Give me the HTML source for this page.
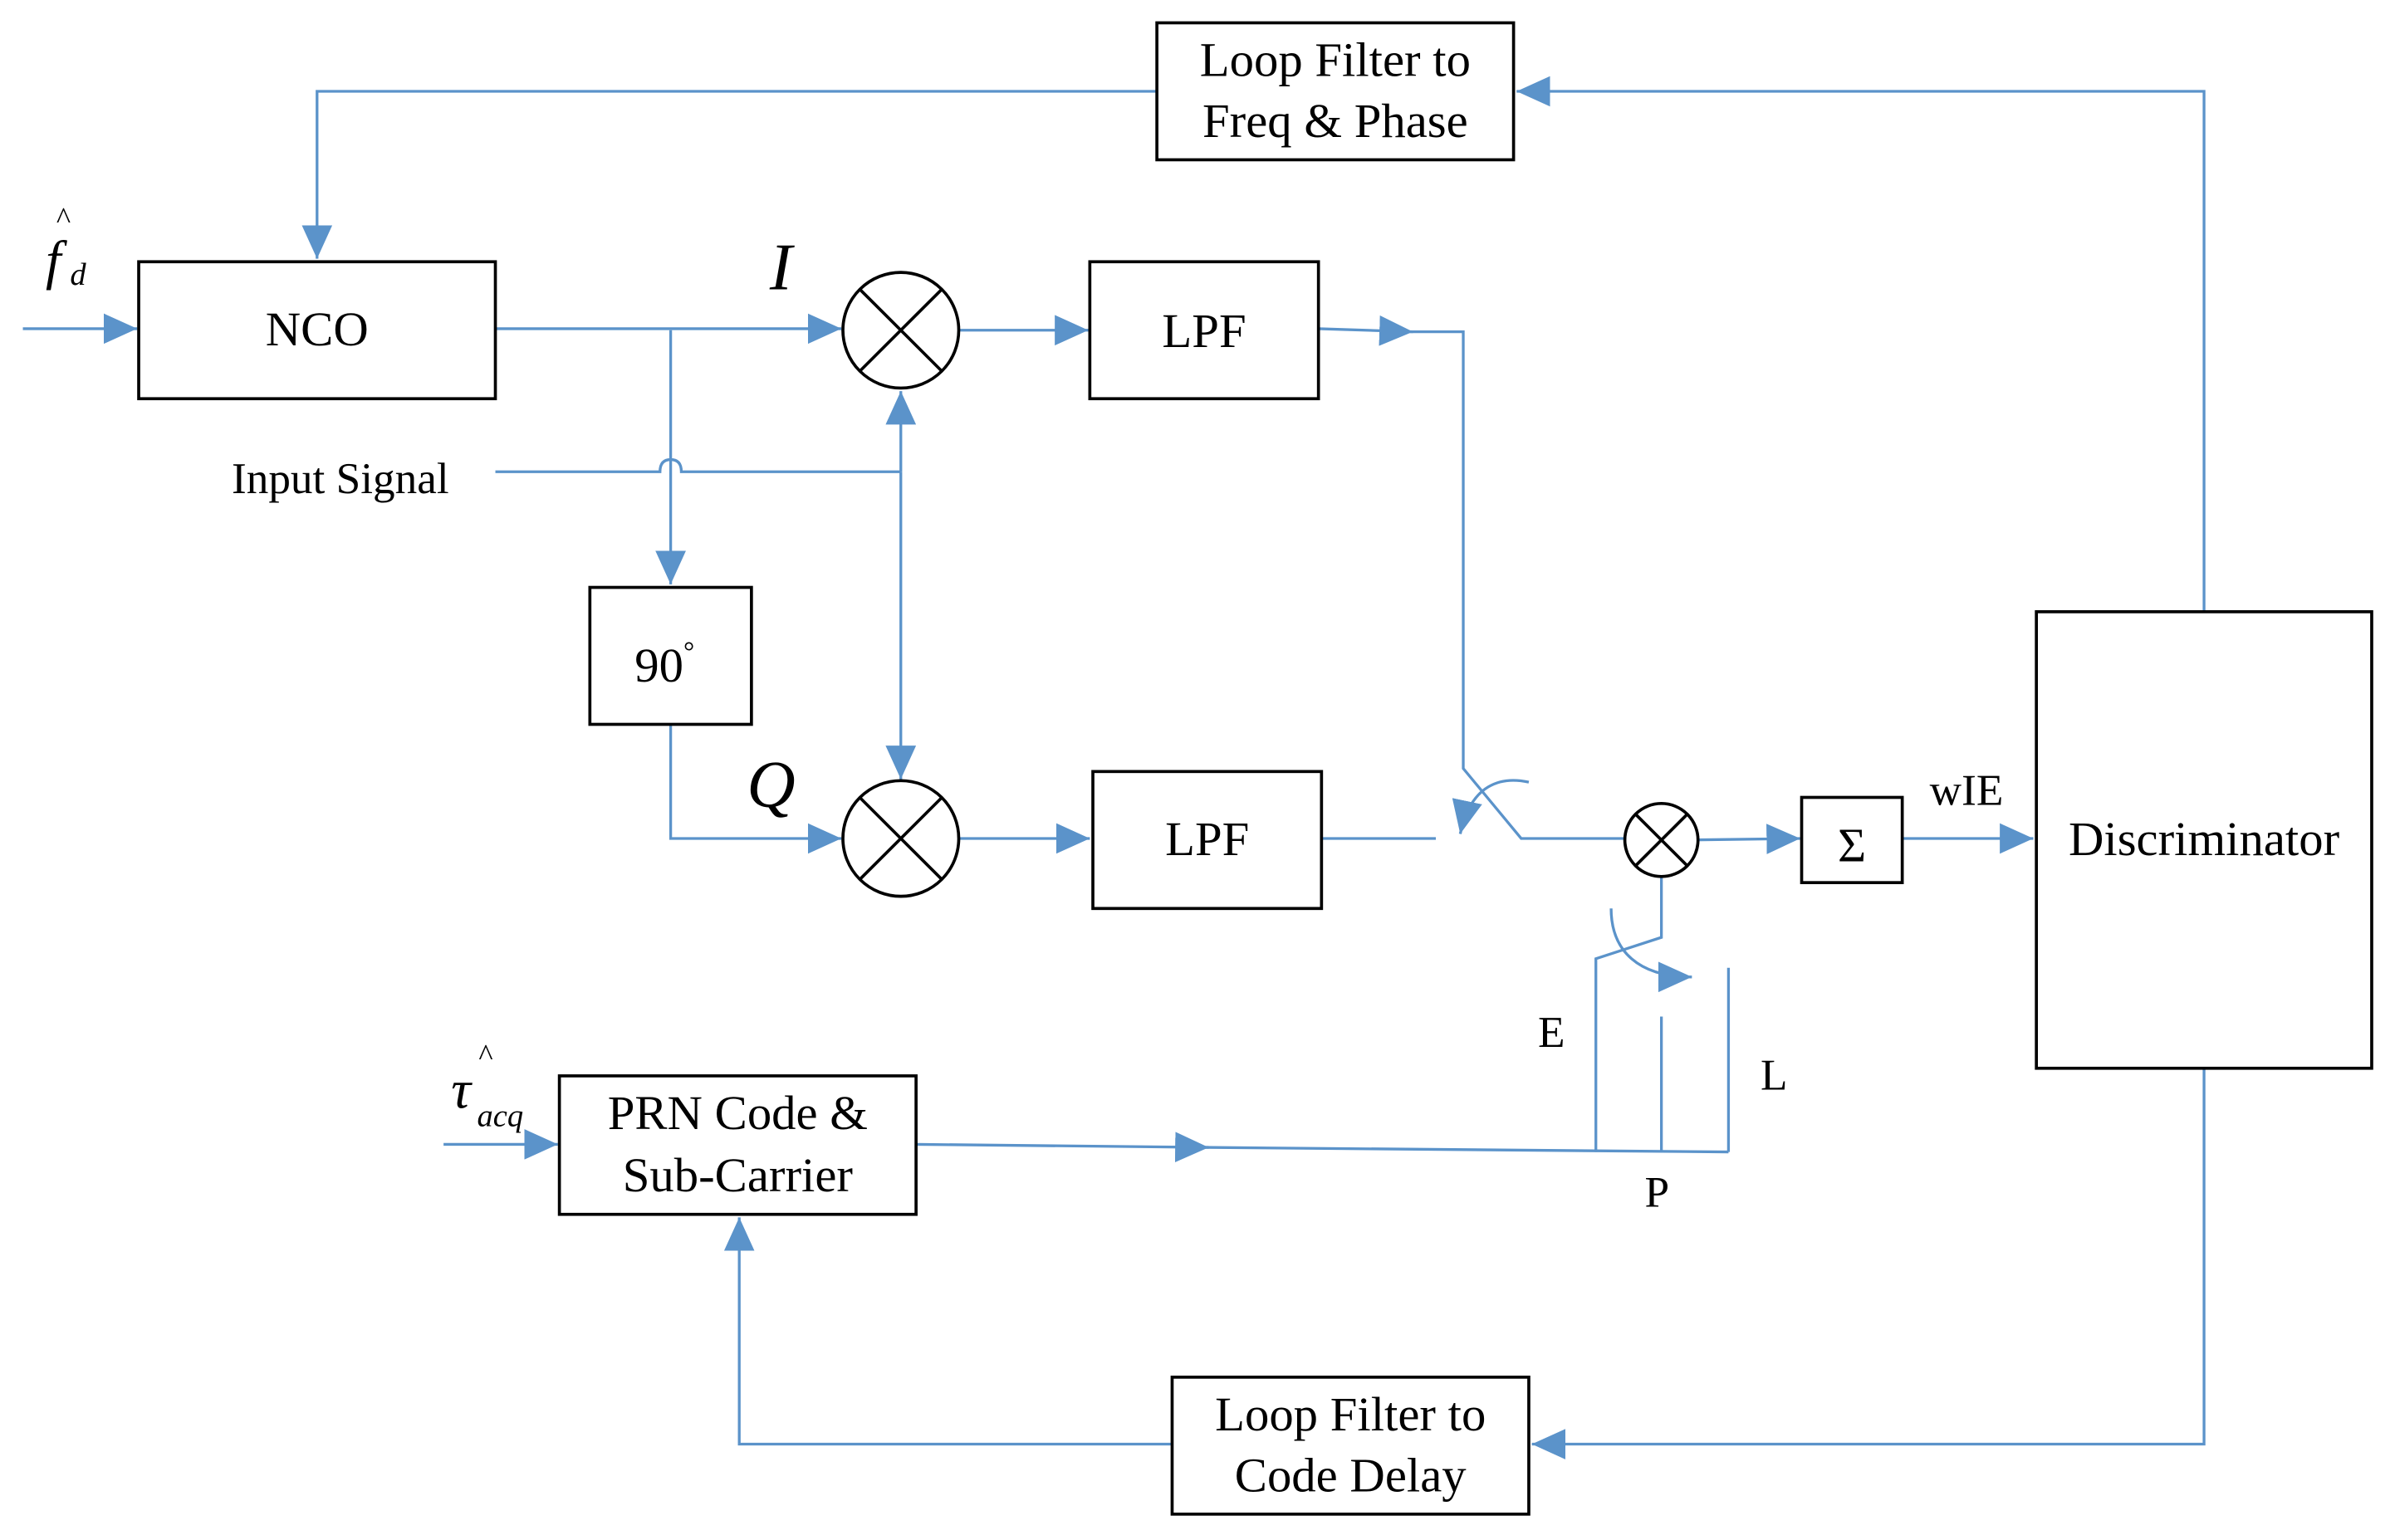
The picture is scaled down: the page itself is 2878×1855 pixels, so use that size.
<!DOCTYPE html>
<html><head><meta charset="utf-8"><style>
html,body{margin:0;padding:0;background:#fff;}
svg{display:block;}
text{font-family:"Liberation Serif","DejaVu Serif",serif;fill:#000;}
</style></head><body>
<svg width="2878" height="1855" viewBox="0 0 1568 1012" preserveAspectRatio="none" xmlns="http://www.w3.org/2000/svg">
<defs>
<marker id="a" markerUnits="userSpaceOnUse" markerWidth="24" markerHeight="20" refX="22" refY="10" orient="auto">
<path d="M0,0 L22,10 L0,20 Z" fill="#5B93CA"/>
</marker>
</defs>
<g fill="none" stroke="#5B93CA" stroke-width="1.8">
<polyline points="759,60 208,60 208,170" marker-end="url(#a)"/>
<polyline points="1446,402 1446,60 995,60" marker-end="url(#a)"/>
<line x1="15" y1="216" x2="90" y2="216" marker-end="url(#a)"/>
<line x1="325" y1="216" x2="552" y2="216" marker-end="url(#a)"/>
<line x1="440" y1="217" x2="440" y2="384" marker-end="url(#a)"/>
<path d="M325,310 L433,310 Q433,302 440,302 Q447,302 447,310 L591,310"/>
<line x1="591" y1="310" x2="591" y2="257" marker-end="url(#a)"/>
<line x1="591" y1="310" x2="591" y2="512" marker-end="url(#a)"/>
<polyline points="440,476 440,551 552,551" marker-end="url(#a)"/>
<line x1="629" y1="217" x2="714" y2="217" marker-end="url(#a)"/>
<line x1="629" y1="551" x2="715" y2="551" marker-end="url(#a)"/>
<line x1="865" y1="216" x2="927" y2="218" marker-end="url(#a)"/>
<polyline points="925,218 960,218 960,505 998,551 1073,551"/>
<line x1="867" y1="551" x2="942" y2="551"/>
<path d="M1003,514 C985,510 965,515 958,548" marker-end="url(#a)"/>
<line x1="1107" y1="552" x2="1181" y2="551" marker-end="url(#a)"/>
<line x1="1248" y1="551" x2="1334" y2="551" marker-end="url(#a)"/>
<polyline points="1090,569 1090,616 1047,630 1047,757"/>
<line x1="1090" y1="668" x2="1090" y2="757"/>
<line x1="1134" y1="636" x2="1134" y2="757"/>
<path d="M1057,597 C1057,625 1075,642 1110,642" marker-end="url(#a)"/>
<line x1="601" y1="752" x2="793" y2="754" marker-end="url(#a)"/>
<polyline points="790,754 1134,757"/>
<line x1="291" y1="752" x2="366" y2="752" marker-end="url(#a)"/>
<polyline points="1446,702 1446,949 1005,949" marker-end="url(#a)"/>
<polyline points="769,949 485,949 485,800" marker-end="url(#a)"/>
</g>
<g fill="#fff" stroke="#000" stroke-width="2">
<rect x="759" y="15" width="234" height="90"/>
<rect x="91" y="172" width="234" height="90"/>
<rect x="715" y="172" width="150" height="90"/>
<rect x="387" y="386" width="106" height="90"/>
<rect x="717" y="507" width="150" height="90"/>
<rect x="1182" y="524" width="66" height="56"/>
<rect x="1336" y="402" width="220" height="300"/>
<rect x="367" y="707" width="234" height="91"/>
<rect x="769" y="905" width="234" height="90"/>
<circle cx="591" cy="217" r="38"/>
<circle cx="591" cy="551" r="38"/>
<circle cx="1090" cy="552" r="24"/>
</g>
<g stroke="#000" stroke-width="2">
<line x1="564" y1="190" x2="618" y2="244"/><line x1="618" y1="190" x2="564" y2="244"/>
<line x1="564" y1="524" x2="618" y2="578"/><line x1="618" y1="524" x2="564" y2="578"/>
<line x1="1073" y1="535" x2="1107" y2="569"/><line x1="1107" y1="535" x2="1073" y2="569"/>
</g>
<g font-size="32" text-anchor="middle">
<text x="876" y="50">Loop Filter to</text>
<text x="876" y="90">Freq &amp; Phase</text>
<text x="208" y="227">NCO</text>
<text x="790" y="228">LPF</text>
<text x="792" y="562">LPF</text>
<text x="436" y="448">90<tspan font-size="18" dy="-14">°</tspan></text>
<text x="1215" y="566">Σ</text>
<text x="1446" y="562">Discriminator</text>
<text x="484" y="742">PRN Code &amp;</text>
<text x="484" y="783">Sub-Carrier</text>
<text x="886" y="940">Loop Filter to</text>
<text x="886" y="980">Code Delay</text>
</g>
<g font-size="29">
<text x="152" y="324">Input Signal</text>
<text x="1266" y="529">wIE</text>
<text x="1009" y="688">E</text>
<text x="1155" y="716">L</text>
<text x="1079" y="793">P</text>
<text x="37" y="150" font-size="20">^</text>
<text x="30" y="183" font-size="36" font-style="italic">f</text>
<text x="46" y="187" font-size="21" font-style="italic">d</text>
<text x="314" y="700" font-size="20">^</text>
<text x="296" y="728" font-size="36" font-style="italic">τ</text>
<text x="313" y="740" font-size="21" font-style="italic">acq</text>
<text x="505" y="190" font-size="44" font-style="italic">I</text>
<text x="490" y="530" font-size="44" font-style="italic">Q</text>
</g>
</svg>
</body></html>
